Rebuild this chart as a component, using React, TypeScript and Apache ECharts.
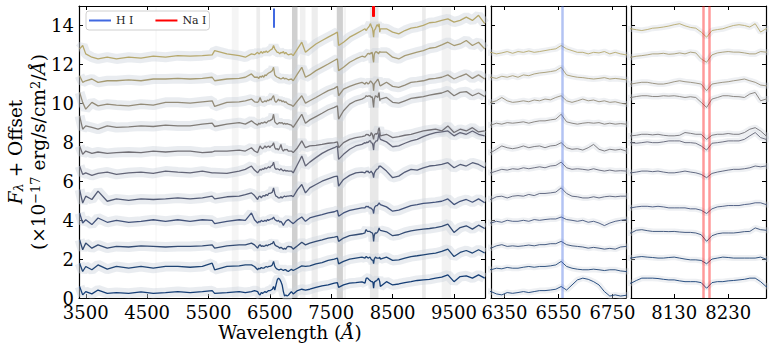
import React, { useEffect, useRef } from "react";
import * as echarts from "echarts";

// Wavelength grid (Å), coarse in the full range, finer inside the two zoom windows
const WAVE = [
  3400, 3450, 3500, 3600, 3700, 3850, 4000, 4200, 4400, 4600, 4800, 5000,
  5200, 5400, 5560, 5600, 5800, 6000, 6100, 6200, 6250,
  6300, 6320, 6340, 6360, 6380, 6400, 6420, 6440, 6460, 6480, 6500, 6520, 6540, 6560, 6580, 6600, 6620, 6640, 6660, 6680, 6700, 6720, 6740, 6760, 6780, 6800,
  6850, 6880, 6950, 7020, 7080, 7150, 7250, 7350, 7450, 7550, 7600, 7620, 7700, 7800, 7900, 8000,
  8050, 8060, 8070, 8080, 8090, 8100, 8110, 8120, 8130, 8140, 8150, 8160, 8170, 8180, 8190, 8200, 8210, 8220, 8230, 8240, 8250, 8260, 8270, 8280, 8290, 8300,
  8400, 8500, 8600, 8700, 8800, 8900, 9000, 9100, 9200, 9300, 9400, 9500, 9600, 9700, 9800, 9900, 10000,
];

// F_lambda + offset for each spectrum (bottom S0 -> top S10)
const S10 = [
  12.8, 12.97, 12.54, 12.37, 12.28, 12.37, 12.28, 12.37, 12.32, 12.42, 12.37, 12.45,
  12.42, 12.45, 12.49, 12.71, 12.54, 12.45, 12.37, 12.54, 12.5,
  12.62, 12.54, 12.59, 12.66, 12.57, 12.66, 12.62, 12.69, 12.62, 12.66, 12.71, 12.76, 12.8, 12.97, 12.8, 12.71, 12.62, 12.62, 12.54, 12.62, 12.59, 12.66, 12.54, 12.62, 12.54, 12.49,
  12.54, 12.45, 12.8, 13.14, 12.62, 12.8, 13.05, 13.23, 13.4, 13.57, 13.66, 12.97, 13.14, 13.4, 13.57, 13.74,
  13.83, 13.78, 13.74, 13.79, 13.86, 13.88, 13.92, 13.97, 14.04, 14.09, 13.98, 13.9, 13.86, 13.66, 13.4, 13.74, 13.79, 13.83, 13.92, 14.0, 14.04, 14.0, 13.92, 14.09, 13.66, 13.83,
  13.83, 13.66, 13.57, 13.74, 13.86, 13.92, 14.0, 14.14, 14.17, 14.26, 14.34, 14.17, 14.26, 14.43, 14.26, 14.52, 14.09,
];
const S9 = [
  11.42, 11.08, 11.16, 11.25, 11.08, 11.16, 11.16, 11.21, 11.16, 11.25, 11.25, 11.28,
  11.25, 11.28, 11.34, 11.16, 11.25, 11.28, 11.34, 11.51, 11.34,
  11.34, 11.28, 11.39, 11.34, 11.42, 11.34, 11.46, 11.42, 11.51, 11.56, 11.59, 11.63, 11.68, 11.85, 11.46, 11.39, 11.34, 11.32, 11.28, 11.25, 11.28, 11.32, 11.25, 11.28, 11.25, 11.21,
  11.25, 11.16, 11.51, 11.85, 11.34, 11.46, 11.68, 11.85, 12.02, 12.2, 12.28, 11.68, 11.85, 12.11, 12.28, 12.42,
  12.37, 12.42, 12.45, 12.49, 12.54, 12.54, 12.57, 12.52, 12.54, 12.59, 12.54, 12.63, 12.59, 12.28, 12.11, 12.49, 12.59, 12.63, 12.66, 12.63, 12.63, 12.59, 12.54, 12.54, 12.66, 12.63,
  12.63, 12.37, 12.28, 12.45, 12.54, 12.63, 12.71, 12.83, 12.88, 13.0, 13.14, 12.97, 13.05, 13.23, 12.97, 13.14, 12.8,
];
const S8 = [
  10.56, 10.05, 9.7, 10.05, 9.87, 9.96, 9.91, 9.87, 9.96, 9.91, 10.05, 10.05,
  10.01, 10.08, 10.13, 9.84, 10.05, 10.08, 10.13, 10.22, 10.08,
  10.05, 10.13, 10.3, 10.13, 10.05, 10.08, 10.13, 10.08, 10.17, 10.13, 10.22, 10.18, 10.3, 10.39, 10.13, 10.05, 10.13, 10.22, 10.13, 10.17, 10.08, 10.13, 10.05, 10.08, 10.01, 9.96,
  9.91, 9.84, 10.13, 10.39, 10.01, 10.13, 10.3, 10.48, 10.65, 10.77, 10.87, 10.39, 10.73, 10.87, 10.99, 11.08,
  10.99, 11.04, 11.08, 11.08, 11.03, 10.99, 10.99, 11.04, 11.11, 11.16, 11.11, 11.08, 11.04, 10.99, 10.65, 10.99, 11.04, 11.08, 11.11, 11.16, 11.2, 11.25, 11.16, 11.08, 10.94, 10.9,
  11.08, 10.87, 10.82, 10.94, 11.08, 11.11, 11.16, 11.25, 11.28, 11.34, 11.46, 11.25, 11.39, 11.51, 11.28, 11.46, 11.25,
];
const S7 = [
  9.36, 8.67, 8.84, 8.76, 8.67, 8.84, 8.76, 8.79, 8.84, 8.81, 8.88, 8.84,
  8.84, 8.93, 8.98, 8.81, 8.93, 9.01, 8.93, 9.1, 8.98,
  8.88, 8.98, 8.93, 9.01, 8.98, 9.01, 9.05, 8.98, 9.05, 9.1, 9.1, 9.15, 9.19, 9.44, 9.05, 8.98, 8.93, 8.98, 9.01, 8.98, 9.01, 8.93, 8.98, 8.93, 8.96, 8.93,
  8.88, 8.76, 9.1, 9.44, 8.98, 9.15, 9.32, 9.49, 9.67, 9.79, 9.87, 9.19, 9.62, 9.96, 10.13, 10.22,
  10.3, 10.35, 10.39, 10.39, 10.35, 10.35, 10.39, 10.37, 10.39, 10.35, 10.3, 10.34, 10.3, 10.05, 9.79, 10.22, 10.3, 10.39, 10.39, 10.35, 10.34, 10.3, 10.48, 10.56, 10.13, 10.22,
  10.3, 10.05, 10.01, 10.13, 10.25, 10.3, 10.35, 10.42, 10.48, 10.53, 10.65, 10.39, 10.56, 10.6, 10.39, 10.53, 10.35,
];
const S6 = [
  7.81, 7.38, 7.55, 7.43, 7.5, 7.43, 7.47, 7.5, 7.47, 7.55, 7.5, 7.55,
  7.55, 7.47, 7.5, 7.55, 7.55, 7.6, 7.55, 7.72, 7.55,
  7.47, 7.64, 7.81, 7.72, 7.67, 7.72, 7.81, 7.72, 7.78, 7.81, 7.72, 7.81, 7.84, 7.98, 7.72, 7.64, 7.67, 7.6, 7.72, 7.89, 7.64, 7.55, 7.64, 7.6, 7.64, 7.55,
  7.55, 7.47, 7.72, 8.07, 7.72, 7.81, 7.84, 7.89, 7.95, 7.98, 8.02, 7.72, 7.98, 8.15, 8.24, 8.29,
  8.33, 8.36, 8.41, 8.41, 8.38, 8.41, 8.36, 8.33, 8.33, 8.36, 8.5, 8.46, 8.41, 8.41, 8.15, 8.36, 8.41, 8.41, 8.45, 8.41, 8.41, 8.5, 8.67, 8.75, 8.58, 8.33,
  8.41, 8.24, 8.29, 8.36, 8.41, 8.5, 8.58, 8.63, 8.67, 8.58, 8.84, 8.5, 8.67, 8.58, 8.75, 8.53, 8.58,
];
const S5 = [
  6.78, 6.35, 6.43, 6.3, 6.4, 6.47, 6.35, 6.43, 6.47, 6.4, 6.52, 6.47,
  6.43, 6.52, 6.43, 6.43, 6.4, 6.52, 6.61, 6.78, 6.57,
  6.43, 6.52, 6.61, 6.57, 6.64, 6.61, 6.69, 6.64, 6.69, 6.74, 6.69, 6.78, 6.81, 6.98, 6.69, 6.61, 6.64, 6.61, 6.57, 6.64, 6.57, 6.52, 6.57, 6.52, 6.54, 6.52,
  6.52, 6.43, 6.86, 7.29, 6.78, 6.98, 7.21, 7.43, 7.6, 7.72, 7.81, 7.12, 7.38, 7.64, 7.81, 7.89,
  7.98, 7.95, 7.98, 8.02, 7.98, 7.98, 8.02, 8.07, 8.07, 8.07, 7.98, 7.98, 7.95, 7.81, 7.6, 7.95, 7.98, 8.02, 8.07, 8.07, 8.07, 8.15, 8.33, 8.5, 8.24, 8.15,
  8.02, 7.77, 7.81, 7.95, 8.07, 8.15, 8.29, 8.41, 8.5, 8.53, 8.58, 8.33, 8.5, 8.41, 8.58, 8.41, 8.33,
];
const S4 = [
  5.57, 4.88, 5.23, 5.06, 5.49, 4.97, 5.09, 5.02, 5.09, 5.06, 5.09, 5.14,
  5.09, 5.14, 5.23, 5.09, 5.2, 5.23, 5.31, 5.4, 5.26,
  5.06, 5.2, 5.23, 5.14, 5.23, 5.26, 5.23, 5.32, 5.26, 5.37, 5.37, 5.4, 5.44, 5.66, 5.37, 5.23, 5.2, 5.14, 5.14, 5.2, 5.14, 5.2, 5.23, 5.2, 5.23, 5.23,
  5.26, 5.2, 5.57, 5.83, 5.4, 5.66, 5.83, 6.0, 6.12, 6.23, 6.26, 5.75, 6.09, 6.3, 6.43, 6.47,
  6.43, 6.47, 6.52, 6.52, 6.49, 6.52, 6.47, 6.43, 6.43, 6.47, 6.52, 6.47, 6.43, 6.35, 6.18, 6.4, 6.47, 6.52, 6.57, 6.61, 6.61, 6.64, 6.69, 6.78, 6.74, 6.78,
  6.52, 6.18, 6.26, 6.47, 6.61, 6.57, 6.69, 6.78, 6.81, 6.86, 6.95, 6.69, 6.86, 6.78, 6.95, 6.86, 6.69,
];
const S3 = [
  4.37, 3.85, 4.02, 3.77, 4.11, 3.89, 3.99, 3.89, 3.94, 4.02, 3.94, 4.02,
  3.94, 4.02, 3.99, 3.82, 3.94, 4.02, 3.99, 4.37, 4.02,
  3.85, 3.94, 3.89, 3.99, 3.94, 3.94, 3.99, 3.94, 4.03, 3.99, 4.03, 4.06, 4.06, 4.16, 4.03, 3.99, 3.94, 3.99, 3.89, 3.94, 3.85, 3.72, 3.85, 3.94, 3.99, 4.03,
  3.89, 3.82, 4.02, 4.16, 3.94, 4.11, 4.2, 4.28, 4.37, 4.43, 4.5, 4.2, 4.37, 4.5, 4.57, 4.63,
  4.63, 4.68, 4.71, 4.71, 4.68, 4.71, 4.68, 4.63, 4.63, 4.63, 4.63, 4.58, 4.58, 4.51, 4.34, 4.58, 4.68, 4.71, 4.75, 4.75, 4.75, 4.8, 4.83, 4.89, 4.89, 4.8,
  4.68, 4.46, 4.51, 4.63, 4.75, 4.8, 4.86, 4.89, 4.92, 4.97, 5.09, 4.8, 4.97, 5.06, 4.92, 5.09, 4.89,
];
const S2 = [
  2.99, 2.48, 2.82, 2.56, 2.73, 2.56, 2.65, 2.62, 2.68, 2.65, 2.62, 2.65,
  2.65, 2.68, 2.73, 2.56, 2.68, 2.73, 2.73, 2.82, 2.73,
  2.56, 2.68, 2.74, 2.65, 2.68, 2.65, 2.68, 2.72, 2.68, 2.74, 2.74, 2.79, 2.79, 2.91, 2.74, 2.68, 2.65, 2.62, 2.56, 2.6, 2.56, 2.51, 2.55, 2.51, 2.62, 2.65,
  2.62, 2.51, 2.68, 2.86, 2.73, 2.82, 2.91, 2.99, 3.08, 3.13, 3.16, 2.91, 3.08, 3.2, 3.25, 3.3,
  3.34, 3.48, 3.51, 3.46, 3.42, 3.42, 3.42, 3.41, 3.42, 3.39, 3.37, 3.37, 3.34, 3.25, 2.91, 3.2, 3.3, 3.34, 3.34, 3.34, 3.37, 3.41, 3.42, 3.6, 3.51, 3.48,
  3.4, 3.2, 3.25, 3.37, 3.45, 3.5, 3.54, 3.57, 3.62, 3.68, 3.8, 3.37, 3.62, 3.71, 3.54, 3.74, 3.57,
];
const S1 = [
  1.79, 1.36, 1.62, 1.45, 1.7, 1.48, 1.62, 1.53, 1.62, 1.53, 1.62, 1.62,
  1.58, 1.62, 1.79, 1.45, 1.62, 1.65, 1.7, 1.7, 1.62,
  1.45, 1.53, 1.5, 1.57, 1.53, 1.53, 1.58, 1.62, 1.58, 1.62, 1.62, 1.65, 1.7, 1.88, 1.62, 1.53, 1.48, 1.45, 1.45, 1.48, 1.45, 1.41, 1.45, 1.45, 1.39, 1.36,
  1.48, 1.41, 1.53, 1.65, 1.62, 1.65, 1.75, 1.82, 1.93, 2.0, 2.05, 1.75, 1.88, 2.0, 2.05, 2.1,
  2.05, 2.1, 2.13, 2.1, 2.08, 2.05, 2.05, 2.08, 2.1, 2.05, 2.0, 1.96, 1.96, 1.93, 1.76, 2.0, 2.05, 2.1, 2.08, 2.05, 2.05, 2.05, 2.05, 2.05, 2.1, 2.0,
  2.1, 1.93, 1.96, 2.05, 2.13, 2.17, 2.22, 2.27, 2.31, 2.39, 2.51, 2.13, 2.34, 2.44, 2.31, 2.48, 2.31,
];
const S0 = [
  0.59, 0.16, 0.33, 0.21, 0.41, 0.24, 0.28, 0.24, 0.31, 0.24, 0.28, 0.33,
  0.28, 0.33, 0.38, 0.24, 0.28, 0.33, 0.28, 0.33, 0.38,
  0.33, 0.21, 0.16, 0.28, 0.24, 0.28, 0.33, 0.28, 0.33, 0.38, 0.38, 0.41, 0.45, 0.59, 0.41, 0.67, 0.93, 1.02, 0.96, 0.84, 0.67, 0.33, 0.1, 0.16, 0.1, 0.14,
  0.33, 0.21, 0.38, 0.45, 0.41, 0.45, 0.55, 0.62, 0.67, 0.76, 0.79, 0.55, 0.67, 0.76, 0.79, 0.83,
  0.76, 0.9, 1.02, 1.02, 1.02, 1.0, 0.96, 0.93, 0.93, 0.88, 0.84, 0.84, 0.84, 0.79, 0.5, 0.79, 0.84, 0.84, 0.88, 0.9, 0.93, 0.96, 1.02, 1.02, 0.84, 0.59,
  0.84, 0.67, 0.72, 0.79, 0.84, 0.9, 0.93, 0.96, 1.02, 1.07, 1.19, 0.84, 1.1, 1.14, 1.02, 1.19, 1.02,
];

const SPECTRA = [S0, S1, S2, S3, S4, S5, S6, S7, S8, S9, S10];

// Tick labels
const MAIN_TICKS = [3500, 4500, 5500, 6500, 7500, 8500, 9500];
const MID_TICKS = [6350, 6550, 6750];
const RIGHT_TICKS = [8130, 8230];

// Line positions (Å)
const HI_LINES = [6563];
const NAI_LINES = [8183, 8195];

// Masked / telluric wavelength ranges [start, end, shade]
const MASKS = [
  [4630, 4660, 0.04],
  [5880, 5990, 0.07],
  [6280, 6340, 0.12],
  [6860, 6950, 0.32],
  [6990, 7080, 0.1],
  [7180, 7280, 0.12],
  [7590, 7690, 0.32],
  [7700, 7740, 0.08],
  [8130, 8270, 0.16],
  [8980, 9040, 0.14],
  [9300, 9450, 0.09],
];

const COLORS = [
  "#143d75", "#1f4474", "#334b73", "#43537a", "#535b75", "#626476",
  "#716f75", "#807c77", "#938b78", "#a59a72", "#b6a86c",
];

const FONT = "'DejaVu Serif', serif";

export default function App() {
  const ref = useRef<HTMLDivElement>(null);

  useEffect(() => {
    if (!ref.current) return;
    const chart = echarts.init(ref.current, undefined, { renderer: "svg" });

    const panels = [
      { grid: { left: 79, top: 6, width: 406, height: 292 }, min: 3390, max: 10005, ticks: MAIN_TICKS, lw: 1.3, hw: 10, ho: 0.45 },
      { grid: { left: 491, top: 6, width: 135, height: 292 }, min: 6300, max: 6800, ticks: MID_TICKS, lw: 0.9, hw: 6, ho: 0.35 },
      { grid: { left: 631, top: 6, width: 135, height: 292 }, min: 8050, max: 8300, ticks: RIGHT_TICKS, lw: 0.9, hw: 6, ho: 0.35 },
    ];

    const axisLine = { show: true, onZero: false, lineStyle: { color: "#000", width: 1.2 } };
    const tickStyle = { color: "#000", width: 1 };
    const fmt = (v: number) => String(v);

    const xAxis: any[] = [];
    const yAxis: any[] = [];
    panels.forEach((p, i) => {
      xAxis.push({
        type: "value", gridIndex: i, min: p.min, max: p.max, position: "bottom",
        axisLine, splitLine: { show: false },
        axisTick: { show: true, inside: true, length: 4, customValues: p.ticks, lineStyle: tickStyle },
        axisLabel: { show: true, customValues: p.ticks, formatter: fmt, fontFamily: FONT, fontSize: 18, color: "#000", margin: 5 },
      });
    });
    panels.forEach((p, i) => {
      xAxis.push({
        type: "value", gridIndex: i, min: p.min, max: p.max, position: "top",
        axisLine, splitLine: { show: false },
        axisTick: { show: true, inside: true, length: 4, customValues: p.ticks, lineStyle: tickStyle },
        axisLabel: { show: false },
      });
    });
    panels.forEach((p, i) => {
      yAxis.push({
        type: "value", gridIndex: i, min: 0, max: 15, interval: 2, position: "left",
        axisLine, splitLine: { show: false },
        axisTick: { show: true, inside: true, length: 4, lineStyle: tickStyle },
        axisLabel: { show: i === 0, formatter: fmt, fontFamily: FONT, fontSize: 18, color: "#000", margin: 5, showMaxLabel: false },
      });
    });
    panels.forEach((p, i) => {
      yAxis.push({
        type: "value", gridIndex: i, min: 0, max: 15, interval: 2, position: "right",
        axisLine, splitLine: { show: false },
        axisTick: { show: true, inside: true, length: 4, lineStyle: tickStyle },
        axisLabel: { show: false },
      });
    });

    const series: any[] = [];

    // masked regions on the full-range panel
    series.push({
      type: "line", xAxisIndex: 0, yAxisIndex: 0, data: [], silent: true, z: 0,
      markArea: {
        silent: true,
        data: MASKS.map(([a, b, o]) => [
          { xAxis: a, itemStyle: { color: `rgba(110,110,110,${o})` } },
          { xAxis: b },
        ]),
      },
    });

    panels.forEach((p, i) => {
      SPECTRA.forEach((s, k) => {
        const data = WAVE.map((w, j) => [w, s[j]]);
        series.push({
          type: "line", xAxisIndex: i, yAxisIndex: i, data, showSymbol: false, symbol: "none",
          silent: true, z: 1,
          lineStyle: { color: "#cfd5de", width: p.hw, opacity: p.ho },
        });
        series.push({
          type: "line", xAxisIndex: i, yAxisIndex: i, data, showSymbol: false, symbol: "none",
          silent: true, z: 3,
          lineStyle: { color: COLORS[k], width: p.lw },
        });
      });
    });

    // H I and Na I markers
    series.push({
      name: "H I", type: "line", xAxisIndex: 0, yAxisIndex: 0, data: [], z: 5,
      itemStyle: { color: "#4169e1" }, lineStyle: { color: "#4169e1" },
      markLine: {
        silent: true, symbol: "none", label: { show: false },
        lineStyle: { color: "#4169e1", width: 2, type: "solid" },
        data: HI_LINES.map((w) => [{ coord: [w, 14.87] }, { coord: [w, 13.88] }]),
      },
    });
    series.push({
      name: "Na I", type: "line", xAxisIndex: 0, yAxisIndex: 0, data: [], z: 5,
      itemStyle: { color: "#ff0000" }, lineStyle: { color: "#ff0000" },
      markLine: {
        silent: true, symbol: "none", label: { show: false },
        lineStyle: { color: "#ff0000", width: 2, type: "solid" },
        data: NAI_LINES.map((w) => [{ coord: [w, 15] }, { coord: [w, 14.45] }]),
      },
    });
    series.push({
      name: "H I", type: "line", xAxisIndex: 1, yAxisIndex: 1, data: [], z: 5,
      itemStyle: { color: "#4169e1" }, lineStyle: { color: "#4169e1" },
      markLine: {
        silent: true, symbol: "none", label: { show: false },
        lineStyle: { color: "#4169e1", width: 2.5, type: "solid", opacity: 0.4 },
        data: HI_LINES.map((w) => ({ xAxis: w })),
      },
    });
    series.push({
      name: "Na I", type: "line", xAxisIndex: 2, yAxisIndex: 2, data: [], z: 5,
      itemStyle: { color: "#ff0000" }, lineStyle: { color: "#ff0000" },
      markLine: {
        silent: true, symbol: "none", label: { show: false },
        lineStyle: { color: "#ff0000", width: 2.5, type: "solid", opacity: 0.4 },
        data: NAI_LINES.map((w) => ({ xAxis: w })),
      },
    });

    chart.setOption({
      animation: false,
      backgroundColor: "#fff",
      grid: panels.map((p) => p.grid),
      xAxis,
      yAxis,
      legend: {
        data: [{ name: "H I", icon: "rect" }, { name: "Na I", icon: "rect" }],
        left: 86, top: 11, itemWidth: 22, itemHeight: 2, itemGap: 22,
        padding: [4, 3], selectedMode: false,
        borderColor: "#d0d0d0", borderWidth: 1, borderRadius: 3,
        backgroundColor: "rgba(255,255,255,0.85)",
        textStyle: { fontFamily: FONT, fontSize: 11, color: "#222" },
      },
      graphic: [
        {
          type: "text", x: 290, y: 332, silent: true,
          style: {
            text: "Wavelength ({i|Å})", fontFamily: FONT, fontSize: 18.5, fill: "#000",
            align: "center", verticalAlign: "middle",
            rich: { i: { fontFamily: FONT, fontSize: 18.5, fontStyle: "italic", fill: "#000" } },
          },
        },
        {
          type: "text", x: 15, y: 152, rotation: Math.PI / 2, silent: true,
          style: {
            text: "{i|F}{sub|λ} + Offset", fontFamily: FONT, fontSize: 18.5, fill: "#000",
            align: "center", verticalAlign: "middle",
            rich: {
              i: { fontFamily: FONT, fontSize: 18.5, fontStyle: "italic", fill: "#000" },
              sub: { fontFamily: FONT, fontSize: 13, fontStyle: "italic", fill: "#000", verticalAlign: "bottom", padding: [6, 0, 0, 0] },
            },
          },
        },
        {
          type: "text", x: 38, y: 152, rotation: Math.PI / 2, silent: true,
          style: {
            text: "(×10{sup|−17} erg/s/cm{sup|2}/{i|Å})", fontFamily: FONT, fontSize: 18.5, fill: "#000",
            align: "center", verticalAlign: "middle",
            rich: {
              i: { fontFamily: FONT, fontSize: 18.5, fontStyle: "italic", fill: "#000" },
              sup: { fontFamily: FONT, fontSize: 13, fill: "#000", verticalAlign: "top", padding: [0, 0, 6, 0] },
            },
          },
        },
      ],
      series,
    });

    return () => chart.dispose();
  }, []);

  return (
    <div
      ref={ref}
      style={{ position: "fixed", left: 0, top: 0, width: 772, height: 352, background: "#fff" }}
    />
  );
}
